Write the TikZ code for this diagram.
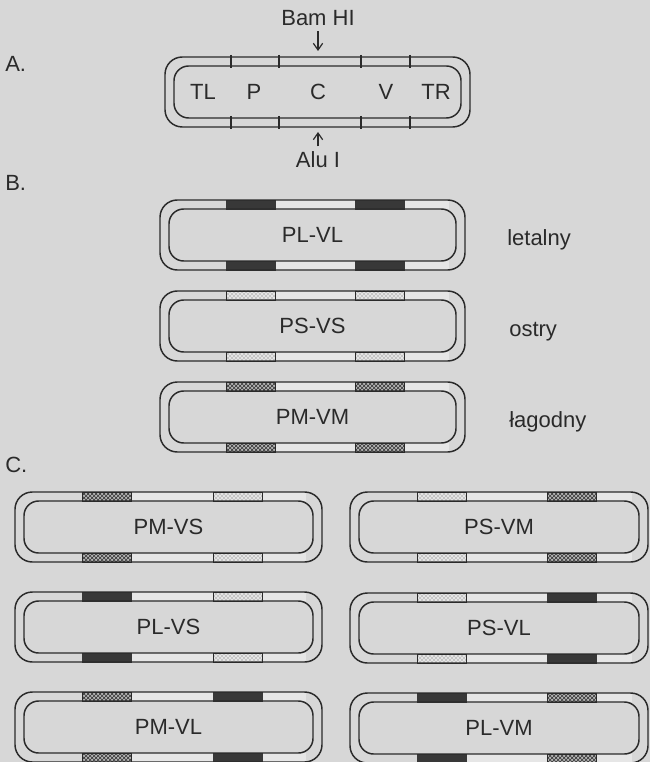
\documentclass[tikz,border=0pt]{standalone}
\usepackage{fontspec}
\setmainfont{Liberation Sans}
\usetikzlibrary{patterns,arrows.meta}
\definecolor{bg}{HTML}{D7D7D7}
\definecolor{ink}{HTML}{2A2A2A}
\definecolor{bandlt}{HTML}{E6E6E6}
\definecolor{darkblk}{HTML}{383838}
\definecolor{sfill}{HTML}{E4E4E4}
\definecolor{mfill}{HTML}{B4B4B4}
\tikzset{
  gline/.style={draw=ink, line width=1.1pt},
  lbl/.style={font=\fontsize{16.5}{19}\selectfont, text=ink, inner sep=0pt},
  Lblk/.style={fill=darkblk, draw=darkblk, line width=0.5pt},
  Sblk/.style={draw=ink, line width=0.5pt, preaction={fill=sfill}, pattern=crosshatch dots, pattern color=gray!75!black},
  Mblk/.style={draw=ink, line width=0.5pt, preaction={fill=mfill}, pattern=crosshatch, pattern color=gray!40!black},
  bandlight/.style={fill=bandlt},
  arr/.style={draw=ink, line width=0.9pt, -{Straight Barb[length=5pt,width=7pt]}}
}
% #1 name, #2 left, #3 top, #4 right, #5 block1 left, #6 block2 left, #7 P style, #8 V style, #9 label
\newcommand\genomebox[9]{%
  \fill[bandlight] ({#5+49},{#3}) rectangle ({#6},{#3+9});
  \fill[bandlight] ({#6+49},{#3}) rectangle ({#4-16},{#3+9});
  \fill[bandlight] ({#5+49},{#3+61}) rectangle ({#6},{#3+70});
  \fill[bandlight] ({#6+49},{#3+61}) rectangle ({#4-16},{#3+70});
  \path[#7] ({#5},{#3}) rectangle ({#5+49},{#3+9});
  \path[#8] ({#6},{#3}) rectangle ({#6+49},{#3+9});
  \path[#7] ({#5},{#3+61}) rectangle ({#5+49},{#3+70});
  \path[#8] ({#6},{#3+61}) rectangle ({#6+49},{#3+70});
  \draw[gline, rounded corners=13pt] ({#2},{#3}) rectangle ({#4},{#3+70});
  \draw[gline, rounded corners=11pt] ({#2+9},{#3+9}) rectangle ({#4-9},{#3+61});
  \node[lbl] (#1) at ({(#2+#4)/2},{#3+35}) {#9};
}
\begin{document}
\begin{tikzpicture}[x=0.75pt,y=-0.75pt]
\fill[bg] (0,0) rectangle (650,762);
\useasboundingbox (0,0) rectangle (650,762);

% ---- A ----
\node[lbl, anchor=west] (labA) at (5,64) {A.};
\draw[gline, rounded corners=13pt] (165,57) rectangle (470,127);
\draw[gline, rounded corners=11pt] (174,66) rectangle (461,118);
\foreach \xx in {231,279,361,410} {
  \draw[gline] (\xx,55) -- (\xx,68);
  \draw[gline] (\xx,116) -- (\xx,129);
}
\node[lbl] (tl) at (203,92) {TL};
\node[lbl] (p) at (254,92) {P};
\node[lbl] (c) at (318,92) {C};
\node[lbl] (v) at (386,92) {V};
\node[lbl] (tr) at (436,92) {TR};
\node[lbl] (bam) at (318,18) {Bam HI};
\coordinate (bamtip) at (318,51);
\draw[arr, shorten <=4pt] (bam) -- (bamtip);
\node[lbl] (alu) at (318,160) {Alu I};
\coordinate (alutip) at (318,132);
\draw[arr, shorten <=4pt] (alu) -- (alutip);

% ---- B ----
\node[lbl, anchor=west] (labB) at (5,183) {B.};
\genomebox{plvl}{160}{200}{465}{226}{355}{Lblk}{Lblk}{PL-VL}
\genomebox{psvs}{160}{291}{465}{226}{355}{Sblk}{Sblk}{PS-VS}
\genomebox{pmvm}{160}{382}{465}{226}{355}{Mblk}{Mblk}{PM-VM}
\node[lbl, anchor=west] (let) at (507,240) {letalny};
\node[lbl, anchor=west] (ost) at (509,332) {ostry};
\node[lbl, anchor=west] (lag) at (509,422) {łagodny};

% ---- C ----
\node[lbl, anchor=west] (labC) at (5,465) {C.};
\genomebox{pmvs}{15}{492}{322}{82}{213}{Mblk}{Sblk}{PM-VS}
\genomebox{plvs}{15}{592}{322}{82}{213}{Lblk}{Sblk}{PL-VS}
\genomebox{pmvl}{15}{692}{322}{82}{213}{Mblk}{Lblk}{PM-VL}
\genomebox{psvm}{350}{492}{648}{417}{547}{Sblk}{Mblk}{PS-VM}
\genomebox{psvl}{350}{593}{648}{417}{547}{Sblk}{Lblk}{PS-VL}
\genomebox{plvm}{350}{693}{648}{417}{547}{Lblk}{Mblk}{PL-VM}
\end{tikzpicture}
\end{document}
